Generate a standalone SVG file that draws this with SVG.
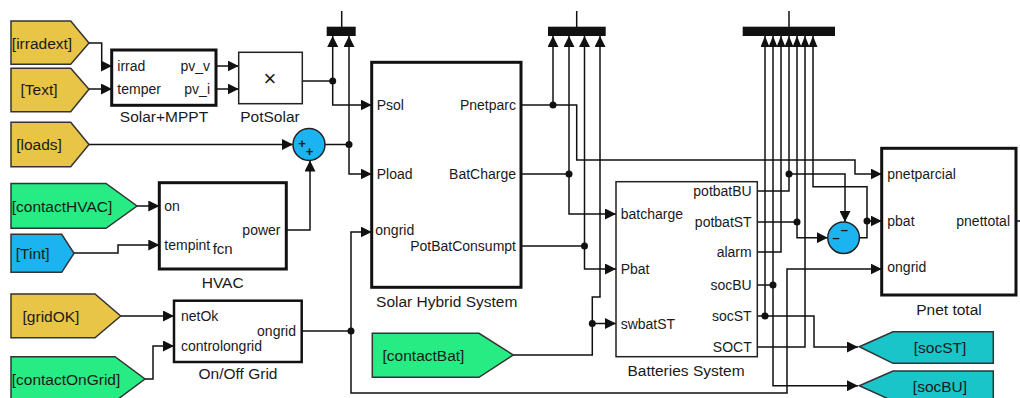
<svg xmlns="http://www.w3.org/2000/svg" width="1020" height="398" viewBox="0 0 1020 398">
<defs>
<style>
text{font-family:"Liberation Sans",Arial,sans-serif;fill:#1a1a1a;}
.port{font-size:14px;dominant-baseline:central;}
.r{text-anchor:end;}
.lbl{font-size:15.5px;text-anchor:middle;}
.tag{font-size:15.5px;text-anchor:middle;dominant-baseline:central;}
.blk{fill:#fff;stroke:#111;stroke-width:3;}
.blkt{fill:#fff;stroke:#222;stroke-width:1.5;}
.yel{fill:#E8C547;stroke:#333;stroke-width:1.5;}
.grn{fill:#27EC84;stroke:#333;stroke-width:1.5;}
.blu{fill:#1BB3F0;stroke:#333;stroke-width:1.5;}
.cyn{fill:#19C5C9;stroke:#333;stroke-width:1.5;}
.w{fill:none;stroke:#111;stroke-width:1.5;}
.a{marker-end:url(#ah);}
.as{marker-end:url(#ahs);}
.dot{fill:#111;}
.bar{fill:#111;}
.sign{font-size:13px;text-anchor:middle;dominant-baseline:central;font-weight:bold;}
</style>
<marker id="ah" viewBox="0 0 11 11" refX="11" refY="5.5" markerWidth="11" markerHeight="11" markerUnits="userSpaceOnUse" orient="auto"><path d="M0,0 L11,5.5 L0,11 z" fill="#111"/></marker>
<marker id="ahs" viewBox="0 0 11 9" refX="11" refY="4.5" markerWidth="11" markerHeight="9" markerUnits="userSpaceOnUse" orient="auto"><path d="M0,0 L11,4.5 L0,9 z" fill="#111"/></marker>
</defs>
<rect width="1020" height="398" fill="#fff"/>

<g id="connectors">
<path class="w a" d="M89,43 H101.7 V66 H112"/>
<path class="w a" d="M89,89 H112"/>
<path class="w a" d="M216,66 H238.7"/>
<path class="w a" d="M216,89 H238.7"/>
<path class="w" d="M302.3,81 H332.7"/>
<path class="w a" d="M332.7,81 V36"/>
<path class="w a" d="M332.7,81 V105 H371.7"/>
<path class="w a" d="M89,144.5 H293"/>
<path class="w a" d="M286,230 H310 V160.5"/>
<path class="w" d="M325,144.5 H349"/>
<path class="w a" d="M349,144.5 V36"/>
<path class="w a" d="M349,144.5 V174 H371.7"/>
<path class="w a" d="M137,206 H159.3"/>
<path class="w a" d="M74,253 H118 V245 H159.3"/>
<path class="w a" d="M120.7,316 H174"/>
<path class="w a" d="M145,379 H153 V346 H174"/>
<path class="w" d="M301.7,331 H351"/>
<path class="w a" d="M351,331 V232 H371.7"/>
<path class="w a" d="M351,331 V393 H787 V269 H881.7"/>
<path class="w" d="M521,105 H553"/>
<path class="w a" d="M553,105 V36"/>
<path class="w a" d="M553,105 H576.7 V160 H855 V174 H881.7"/>
<path class="w" d="M521,174 H569"/>
<path class="w a" d="M569,174 V36"/>
<path class="w a" d="M569,174 V214 H616"/>
<path class="w" d="M521,246 H584.5"/>
<path class="w a" d="M584.5,246 V36"/>
<path class="w a" d="M584.5,246 V269 H616"/>
<path class="w" d="M513,355 H592.3 V323.5"/>
<path class="w a" d="M592.3,323.5 H616"/>
<path class="w a" d="M592.3,323.5 V297 H600 V36"/>
<path class="w" d="M341.7,11 V27"/>
<path class="w" d="M576.7,11 V27"/>
<path class="w" d="M789,11 V27"/>
<path class="w" d="M757.3,191 H789 V174"/>
<path class="w as" d="M789,174 V36"/>
<path class="w a" d="M789,174 H845 V222"/>
<path class="w" d="M757.3,222 H797"/>
<path class="w as" d="M797,222 V36"/>
<path class="w a" d="M797,222 V237.7 H827.8"/>
<path class="w as" d="M757.3,252 H781 V36"/>
<path class="w" d="M757.3,285 H773"/>
<path class="w as" d="M773,285 V36"/>
<path class="w a" d="M773,285 V385.7 H858"/>
<path class="w" d="M757.3,316 H765"/>
<path class="w as" d="M765,316 V36"/>
<path class="w a" d="M765,316 H814 V347 H858"/>
<path class="w as" d="M757.3,347 H805 V36"/>
<path class="w" d="M859.4,237.7 H867 V221"/>
<path class="w a" d="M867,221 H881.7"/>
<path class="w as" d="M867,221 V186.7 H813 V36"/>
<path class="w" d="M1016,221 H1020"/>
<circle class="dot" cx="332.7" cy="81" r="3.5"/>
<circle class="dot" cx="349" cy="144.5" r="3.5"/>
<circle class="dot" cx="351" cy="331" r="3.5"/>
<circle class="dot" cx="553" cy="105" r="3.5"/>
<circle class="dot" cx="569" cy="174" r="3.5"/>
<circle class="dot" cx="584.5" cy="246" r="3.5"/>
<circle class="dot" cx="592.3" cy="323.5" r="3.5"/>
<circle class="dot" cx="789" cy="174" r="3.5"/>
<circle class="dot" cx="797" cy="222" r="3.5"/>
<circle class="dot" cx="773" cy="285" r="3.5"/>
<circle class="dot" cx="765" cy="316" r="3.5"/>
<circle class="dot" cx="867" cy="221" r="3.5"/>
</g>

<g id="mux1"><rect class="bar" x="326.7" y="26.7" width="29" height="9.3"/></g>
<g id="mux2"><rect class="bar" x="548" y="26.7" width="57.7" height="9.3"/></g>
<g id="mux3"><rect class="bar" x="742.7" y="26.7" width="92.3" height="9.3"/></g>

<g id="tag-irradext"><path class="yel" d="M11,21 H70.7 L89,43 L70.7,64.3 H11 Z"/><text class="tag" x="42" y="43">[irradext]</text></g>
<g id="tag-Text"><path class="yel" d="M11,68.3 H70.7 L89,89.3 L70.7,111.7 H11 Z"/><text class="tag" x="39" y="89">[Text]</text></g>
<g id="tag-loads"><path class="yel" d="M11,122.3 H70.7 L89,144.5 L70.7,166.7 H11 Z"/><text class="tag" x="39" y="144">[loads]</text></g>
<g id="tag-contactHVAC"><path class="grn" d="M11,183.5 H106 L137,206 L106,228.3 H11 Z"/><text class="tag" x="62" y="206">[contactHVAC]</text></g>
<g id="tag-Tint"><path class="blu" d="M11,234.3 H61.7 L74,253.3 L61.7,272.3 H11 Z"/><text class="tag" x="32.7" y="253">[Tint]</text></g>
<g id="tag-gridOK"><path class="yel" d="M11,294 H95 L120.7,316 L95,337.7 H11 Z"/><text class="tag" x="51" y="316">[gridOK]</text></g>
<g id="tag-contactOnGrid"><path class="grn" d="M11,356.7 H115 L145,379 L115,401.3 H11 Z"/><text class="tag" x="66" y="379">[contactOnGrid]</text></g>
<g id="tag-contactBat"><path class="grn" d="M372.3,333.3 H479 L513.3,355 L479,377.3 H372.3 Z"/><text class="tag" x="423.5" y="355">[contactBat]</text></g>
<g id="tag-socST"><path class="cyn" d="M859.3,346.7 L893,331.7 H993.3 V363.3 H893 Z"/><text class="tag" x="940" y="347">[socST]</text></g>
<g id="tag-socBU"><path class="cyn" d="M859.3,385.7 L893,371 H993.3 V401 H893 Z"/><text class="tag" x="940" y="386">[socBU]</text></g>

<g id="solar-mppt">
<rect class="blk" x="111.7" y="50" width="104.3" height="55.3"/>
<text class="port" x="117.3" y="66">irrad</text>
<text class="port" x="117.3" y="89">temper</text>
<text class="port r" x="210" y="66">pv_v</text>
<text class="port r" x="210" y="89">pv_i</text>
<text class="lbl" x="164" y="122">Solar+MPPT</text>
</g>

<g id="potsolar">
<rect class="blkt" x="238.7" y="52.3" width="63.6" height="51.4"/>
<text x="270" y="78" style="font-size:22px;text-anchor:middle;dominant-baseline:central;">×</text>
<text class="lbl" x="270" y="122">PotSolar</text>
</g>

<g id="sum1">
<circle cx="309" cy="144.5" r="16" fill="#1BB3F0" stroke="#222" stroke-width="1.5"/>
<text class="sign" x="302" y="143.5">+</text>
<text class="sign" x="309.5" y="151.5">+</text>
</g>

<g id="hvac">
<rect class="blk" x="159.3" y="182.7" width="127" height="86.3"/>
<text class="port" x="164.3" y="206">on</text>
<text class="port" x="164.3" y="245">tempint</text>
<text x="212.7" y="248" style="font-size:15px;dominant-baseline:central;">fcn</text>
<text class="port r" x="280.5" y="230">power</text>
<text class="lbl" x="222.7" y="287.5">HVAC</text>
</g>

<g id="onoff-grid">
<rect class="blk" x="174" y="300.7" width="127.7" height="61.3" style="stroke-width:2.5"/>
<text class="port" x="181" y="316">netOk</text>
<text class="port" x="181" y="346">controlongrid</text>
<text class="port r" x="296" y="331">ongrid</text>
<text class="lbl" x="238" y="378.5">On/Off Grid</text>
</g>

<g id="solar-hybrid">
<rect class="blk" x="371.7" y="62.3" width="149.3" height="225"/>
<text class="port" x="376.7" y="105">Psol</text>
<text class="port" x="376.7" y="174">Pload</text>
<text class="port" x="375.3" y="230">ongrid</text>
<text class="port r" x="516" y="105">Pnetparc</text>
<text class="port r" x="516" y="174">BatCharge</text>
<text class="port r" x="516" y="246">PotBatConsumpt</text>
<text class="lbl" x="446.7" y="306.5">Solar Hybrid System</text>
</g>

<g id="batteries">
<rect class="blkt" x="616" y="181.7" width="141.3" height="175"/>
<text class="port" x="620.7" y="214">batcharge</text>
<text class="port" x="620.7" y="269">Pbat</text>
<text class="port" x="620.7" y="324">swbatST</text>
<text class="port r" x="751.7" y="191">potbatBU</text>
<text class="port r" x="751.7" y="222">potbatST</text>
<text class="port r" x="751.7" y="252">alarm</text>
<text class="port r" x="751.7" y="285">socBU</text>
<text class="port r" x="751.7" y="316">socST</text>
<text class="port r" x="751.7" y="347">SOCT</text>
<text class="lbl" x="686" y="375.5">Batteries System</text>
</g>

<g id="sum2">
<circle cx="843.6" cy="237.7" r="15.8" fill="#1BB3F0" stroke="#222" stroke-width="1.5"/>
<text class="sign" x="844.3" y="229.5">–</text>
<text class="sign" x="836" y="237.5">–</text>
</g>

<g id="pnet-total">
<rect class="blk" x="881.7" y="148.3" width="134.3" height="146.7"/>
<text class="port" x="887.3" y="174.3">pnetparcial</text>
<text class="port" x="887.3" y="221">pbat</text>
<text class="port" x="887.3" y="267.3">ongrid</text>
<text class="port r" x="1010" y="221">pnettotal</text>
<text class="lbl" x="949" y="314.5">Pnet total</text>
</g>
</svg>
